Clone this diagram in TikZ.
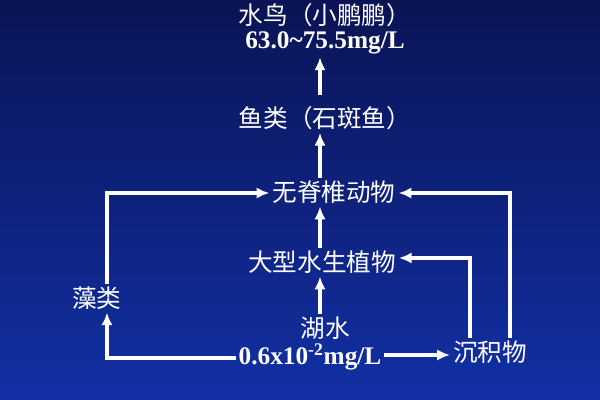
\documentclass[tikz,border=0pt]{standalone}
\usepackage{fontspec}
\setmainfont{Liberation Serif}
\newfontfamily\cjk{Noto Sans CJK SC}
\usetikzlibrary{positioning}
\usetikzlibrary{arrows.meta}
\tikzset{
  lbl/.style={text=white, font=\cjk\fontsize{17.5}{20}\selectfont, inner sep=2pt},
  num/.style={text=white, font=\bfseries\fontsize{18}{20}\selectfont, inner sep=2pt},
  flow/.style={draw=white, line width=2.2pt, -{Latex[length=3.2mm,width=2.8mm]}}
}
\begin{document}
\begin{tikzpicture}[x=0.025cm, y=-0.025cm]
    \shade[top color={rgb,255:red,10;green,20;blue,85}, bottom color={rgb,255:red,18;green,48;blue,165}] (0,0) rectangle (600,400);
    \useasboundingbox (0,0) rectangle (600,400);

    \node[lbl] (bird) at (325,15) {水鸟（小鹏鹏）};
    \node[num] (birdv) at (325,43) {63.0\textasciitilde75.5mg/L};
    \node[lbl] (fish) at (325,118) {鱼类（石斑鱼）};
    \node[lbl] (inv) at (334,192) {无脊椎动物};
    \node[lbl] (plant) at (322,262) {大型水生植物};
    \node[lbl] (lake) at (325,328) {湖水};
    \node[num] (lakev) at (310,357) {0.6x10\textsuperscript{-2}mg/L};
    \node[lbl] (algae) at (97,298) {藻类};
    \node[lbl] (sed) at (490,352) {沉积物};

    \draw[flow] (320,95) -- (birdv.south -| 320,0);
    \draw[flow] (inv.north -| 320,0) -- (fish.south -| 320,0);
    \draw[flow] (plant.north -| 320,0) -- (inv.south -| 320,0);
    \draw[flow] (lake.north -| 320,0) -- (plant.south -| 320,0);

    \draw[flow] (algae.north -| 107,0) -- (107,193) -- (inv.west |- 0,193);
    \draw[flow] (lakev.west |- 0,358) -- (107,358) -- (algae.south -| 107,0);
    \draw[flow] (lakev.east |- 0,355) -- (sed.west |- 0,355);
    \draw[flow] (sed.north -| 470,0) -- (470,258) -- (plant.east |- 0,258);
    \draw[flow] (sed.north -| 510,0) -- (510,193) -- (inv.east |- 0,193);
\end{tikzpicture}
\end{document}
